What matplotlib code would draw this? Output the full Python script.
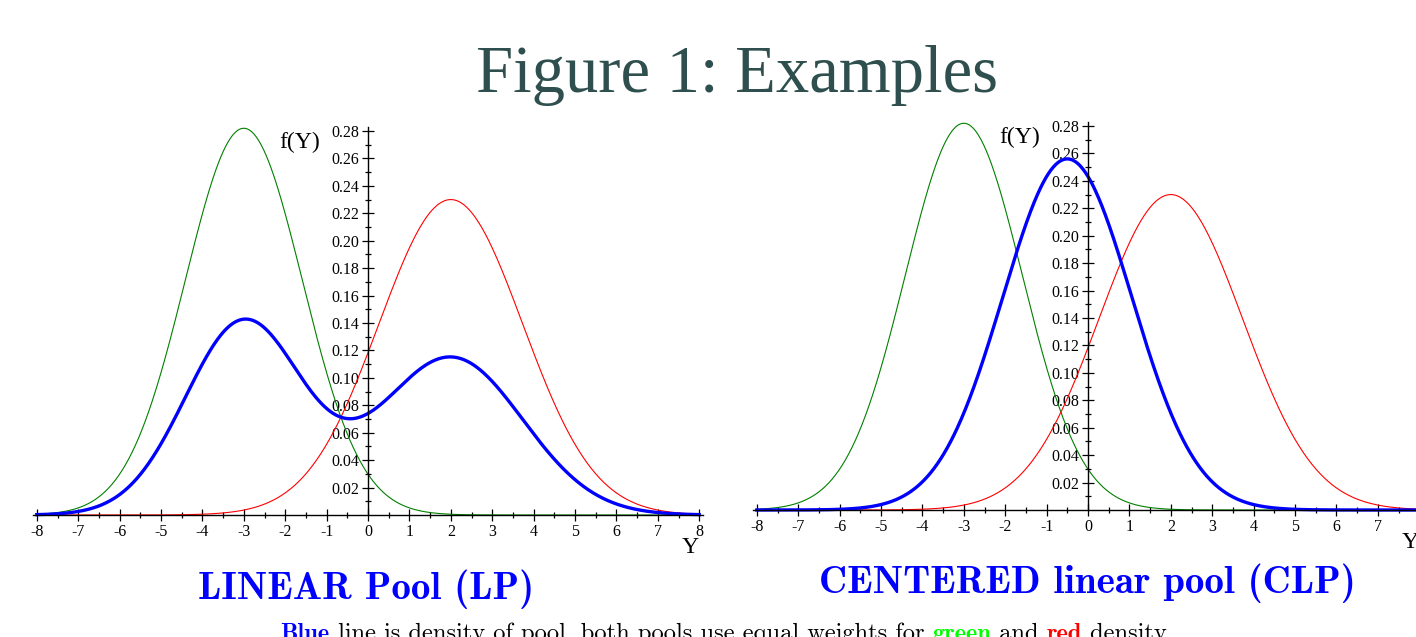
import numpy as np
import matplotlib.pyplot as plt

plt.rcParams['font.family'] = ['Liberation Serif', 'DejaVu Serif']

# values: normal densities given by mean and peak height
green_mean, green_peak = -3.0, 0.282
red_mean, red_peak = 2.0, 0.230
clp_mean, clp_peak = -0.5, 0.256
pool_weights = [0.5, 0.5]

x_ticks = list(range(-8, 9))
x_tick_labels = [str(v) for v in x_ticks]
x_minor = [v + 0.5 for v in range(-8, 8)]
y_ticks = [0.02 * i for i in range(1, 15)]
y_tick_labels = ['%.2f' % v for v in y_ticks]
y_minor = [0.01 + 0.02 * i for i in range(14)]

captions = ['LINEAR Pool (LP)', 'CENTERED linear pool (CLP)']
footnote = [('Blue', 'blue', 'bold'),
            (' line is density of pool, both pools use equal weights for ', 'black', 'normal'),
            ('green', '#00ff00', 'bold'),
            (' and ', 'black', 'normal'),
            ('red', 'red', 'bold'),
            (' density.', 'black', 'normal')]

W, H = 1416, 637
UX = 41.4            # pixels per unit of Y
UY = 384 / 0.28      # pixels per unit of f(Y)


def density(y, mean, peak):
    sd = 1.0 / (peak * np.sqrt(2 * np.pi))
    return peak * np.exp(-0.5 * ((y - mean) / sd) ** 2)


def make_axes(fig, ox, oy):
    # ox, oy: pixel position of the origin (from left, from top)
    xlim = (-8.4, 8.4)
    ylim = (-0.03, 0.292)
    left = ox + xlim[0] * UX
    width = (xlim[1] - xlim[0]) * UX
    bottom = (H - oy) + ylim[0] * UY
    height = (ylim[1] - ylim[0]) * UY
    ax = fig.add_axes([left / W, bottom / H, width / W, height / H])
    ax.set_xlim(xlim)
    ax.set_ylim(ylim)
    ax.patch.set_alpha(0)
    for s in ['top', 'right']:
        ax.spines[s].set_visible(False)
    ax.spines['left'].set_position(('data', 0))
    ax.spines['bottom'].set_position(('data', 0))
    ax.spines['left'].set_bounds(0, 0.283)
    ax.spines['bottom'].set_bounds(-8.1, 8.1)
    for s in ['left', 'bottom']:
        ax.spines[s].set_linewidth(1.0)
    ax.set_xticks(x_ticks)
    ax.set_xticklabels(x_tick_labels)
    ax.set_xticks(x_minor, minor=True)
    ax.set_yticks(y_ticks)
    ax.set_yticklabels(y_tick_labels)
    ax.set_yticks(y_minor, minor=True)
    ax.tick_params(which='major', direction='inout', length=9, width=0.9,
                   labelsize=11.5, pad=2)
    ax.tick_params(which='minor', direction='inout', length=5, width=0.9)
    ax.text(-1.64, 0.272, 'f(Y)', fontsize=17, ha='center', va='center')
    ax.text(7.78, -0.024, 'Y', fontsize=17, ha='center', va='center')
    return ax


fig = plt.figure(figsize=(W / 100, H / 100), dpi=100)

y = np.linspace(-8, 8, 801)
green = density(y, green_mean, green_peak)
red = density(y, red_mean, red_peak)
lp = pool_weights[0] * green + pool_weights[1] * red
clp = density(y, clp_mean, clp_peak)

ax1 = make_axes(fig, 368, 515)
ax1.plot(y, green, color='green', lw=0.8)
ax1.plot(y, red, color='red', lw=0.8)
ax1.plot(y, lp, color='blue', lw=2.4)

ax2 = make_axes(fig, 1088, 510)
ax2.plot(y, green, color='green', lw=0.8)
ax2.plot(y, red, color='red', lw=0.8)
ax2.plot(y, clp, color='blue', lw=2.4)

fig.text(737 / W, 1 - 92 / H, 'Figure 1: Examples', ha='center', va='baseline',
         fontsize=48, color='#2F4F4F')

fig.text(366 / W, 1 - 599 / H, captions[0], ha='center', va='baseline',
         fontsize=28, color='blue', family='cmb10')
fig.text(1087 / W, 1 - 593 / H, captions[1], ha='center', va='baseline',
         fontsize=28, color='blue', family='cmb10')

# footnote in pieces, centred as a whole
renderer = fig.canvas.get_renderer()
pieces = []
for txt, col, wt in footnote:
    fam = 'cmb10' if wt == 'bold' else 'cmr10'
    t = fig.text(0, 1 - 640 / H, txt, ha='left', va='baseline', fontsize=17.6,
                 color=col, family=fam)
    pieces.append(t)
widths = [t.get_window_extent(renderer).width for t in pieces]
x = 727 - sum(widths) / 2
for t, w in zip(pieces, widths):
    t.set_x(x / W)
    x += w

fig.savefig('out.png', dpi=100)
